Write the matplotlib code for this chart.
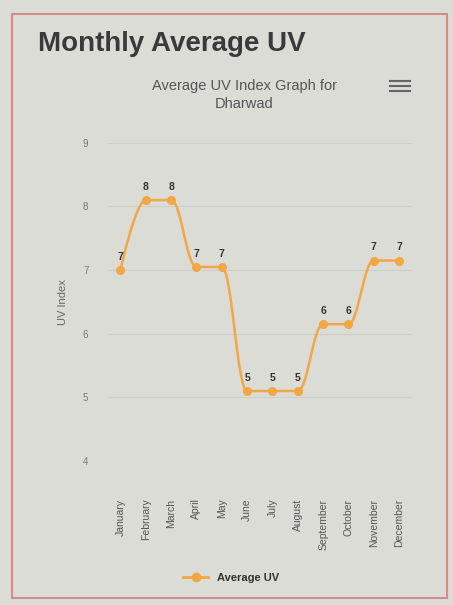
import matplotlib
matplotlib.use("Agg")
import matplotlib.pyplot as plt
from matplotlib.path import Path
from matplotlib.patches import PathPatch, Rectangle
from matplotlib.lines import Line2D
import numpy as np

# Data
months = ['January', 'February', 'March', 'April', 'May', 'June', 'July',
          'August', 'September', 'October', 'November', 'December']
uv = [7.0, 8.1, 8.1, 7.05, 7.05, 5.1, 5.1, 5.1, 6.15, 6.15, 7.15, 7.15]
yticks = [4, 5, 6, 7, 8, 9]

bg = '#dcdcd6'
orange = '#f2a746'
plt.rcParams['font.family'] = ['Liberation Sans', 'DejaVu Sans']

fig = plt.figure(figsize=(4.53, 6.05), dpi=100, facecolor=bg)
ax = fig.add_axes([0.238, 0.238, 0.671, 0.526], facecolor=bg)

x = np.arange(len(months))


def spline_path(xs, ys, smoothing=1.5):
    # bezier segments through the points, in the style of a highcharts spline
    n = len(xs)
    verts = [(xs[0], ys[0])]
    codes = [Path.MOVETO]
    right = [None] * n
    left = [None] * n
    for i in range(n):
        if i == 0 or i == n - 1:
            left[i] = (xs[i], ys[i])
            right[i] = (xs[i], ys[i])
            continue
        d = smoothing + 1
        lx = (smoothing * xs[i] + xs[i - 1]) / d
        ly = (smoothing * ys[i] + ys[i - 1]) / d
        rx = (smoothing * xs[i] + xs[i + 1]) / d
        ry = (smoothing * ys[i] + ys[i + 1]) / d
        corr = (ry - ly) * (rx - xs[i]) / (rx - lx) + ys[i] - ry
        ly += corr
        ry += corr
        if (ly > ys[i - 1] and ly > ys[i]) or (ly < ys[i - 1] and ly < ys[i]):
            ly = max(ys[i - 1], ys[i]) if ly > ys[i] else min(ys[i - 1], ys[i])
            ry = 2 * ys[i] - ly
        if (ry > ys[i + 1] and ry > ys[i]) or (ry < ys[i + 1] and ry < ys[i]):
            ry = max(ys[i + 1], ys[i]) if ry > ys[i] else min(ys[i + 1], ys[i])
            ly = 2 * ys[i] - ry
        left[i] = (lx, ly)
        right[i] = (rx, ry)
    for i in range(1, n):
        verts += [right[i - 1], left[i], (xs[i], ys[i])]
        codes += [Path.CURVE4] * 3
    return Path(verts, codes)


ax.add_patch(PathPatch(spline_path(x, uv), facecolor='none', edgecolor=orange,
                       lw=1.8, zorder=3))
ax.plot(x, uv, 'o', color=orange, ms=5.5, zorder=4)

for xi, v in zip(x, uv):
    ax.annotate(f'{v:.0f}', (xi, v), xytext=(0, 6), textcoords='offset points',
                ha='center', va='bottom', fontsize=7.5, fontweight='bold',
                color='#333333', zorder=5)

ax.set_xlim(-0.5, len(months) - 0.5)
ax.set_ylim(4, 9)
ax.set_yticks(yticks)
ax.set_yticklabels([str(t) for t in yticks], fontsize=7, color='#777777')
ax.set_xticks(x)
ax.set_xticklabels(months, rotation=90, fontsize=7.5, color='#555555')
ax.tick_params(axis='x', length=0, pad=27)
ax.tick_params(axis='y', length=0, pad=14)
ax.grid(axis='y', color='#cfcfca', lw=0.8)
for s in ax.spines.values():
    s.set_visible(False)
ax.set_ylabel('UV Index', fontsize=8, color='#666666', labelpad=11)

fig.text(0.084, 0.928, 'Monthly Average UV', fontsize=20, fontweight='bold',
         color='#3a3a3a', ha='left', va='center')
fig.text(0.54, 0.843, 'Average UV Index Graph for\nDharwad', fontsize=10.5,
         color='#555555', ha='center', va='center', linespacing=1.3)
# menu icon
for k in range(3):
    fig.add_artist(Line2D([0.86, 0.905], [0.866 - k * 0.008] * 2,
                          color='#666666', lw=1.5))

leg = fig.legend([Line2D([], [], color=orange, lw=2, marker='o', ms=6)],
                 ['Average UV'], loc='center', bbox_to_anchor=(0.51, 0.045),
                 frameon=False, prop={'size': 8, 'weight': 'bold'},
                 handlelength=2.2)
for t in leg.get_texts():
    t.set_color('#333333')

# page border
fig.add_artist(Rectangle((0.027, 0.012), 0.96, 0.965, transform=fig.transFigure,
                         fill=False, edgecolor='#d88a8a', lw=1.5))

fig.savefig('out.png', dpi=100, facecolor=bg)
